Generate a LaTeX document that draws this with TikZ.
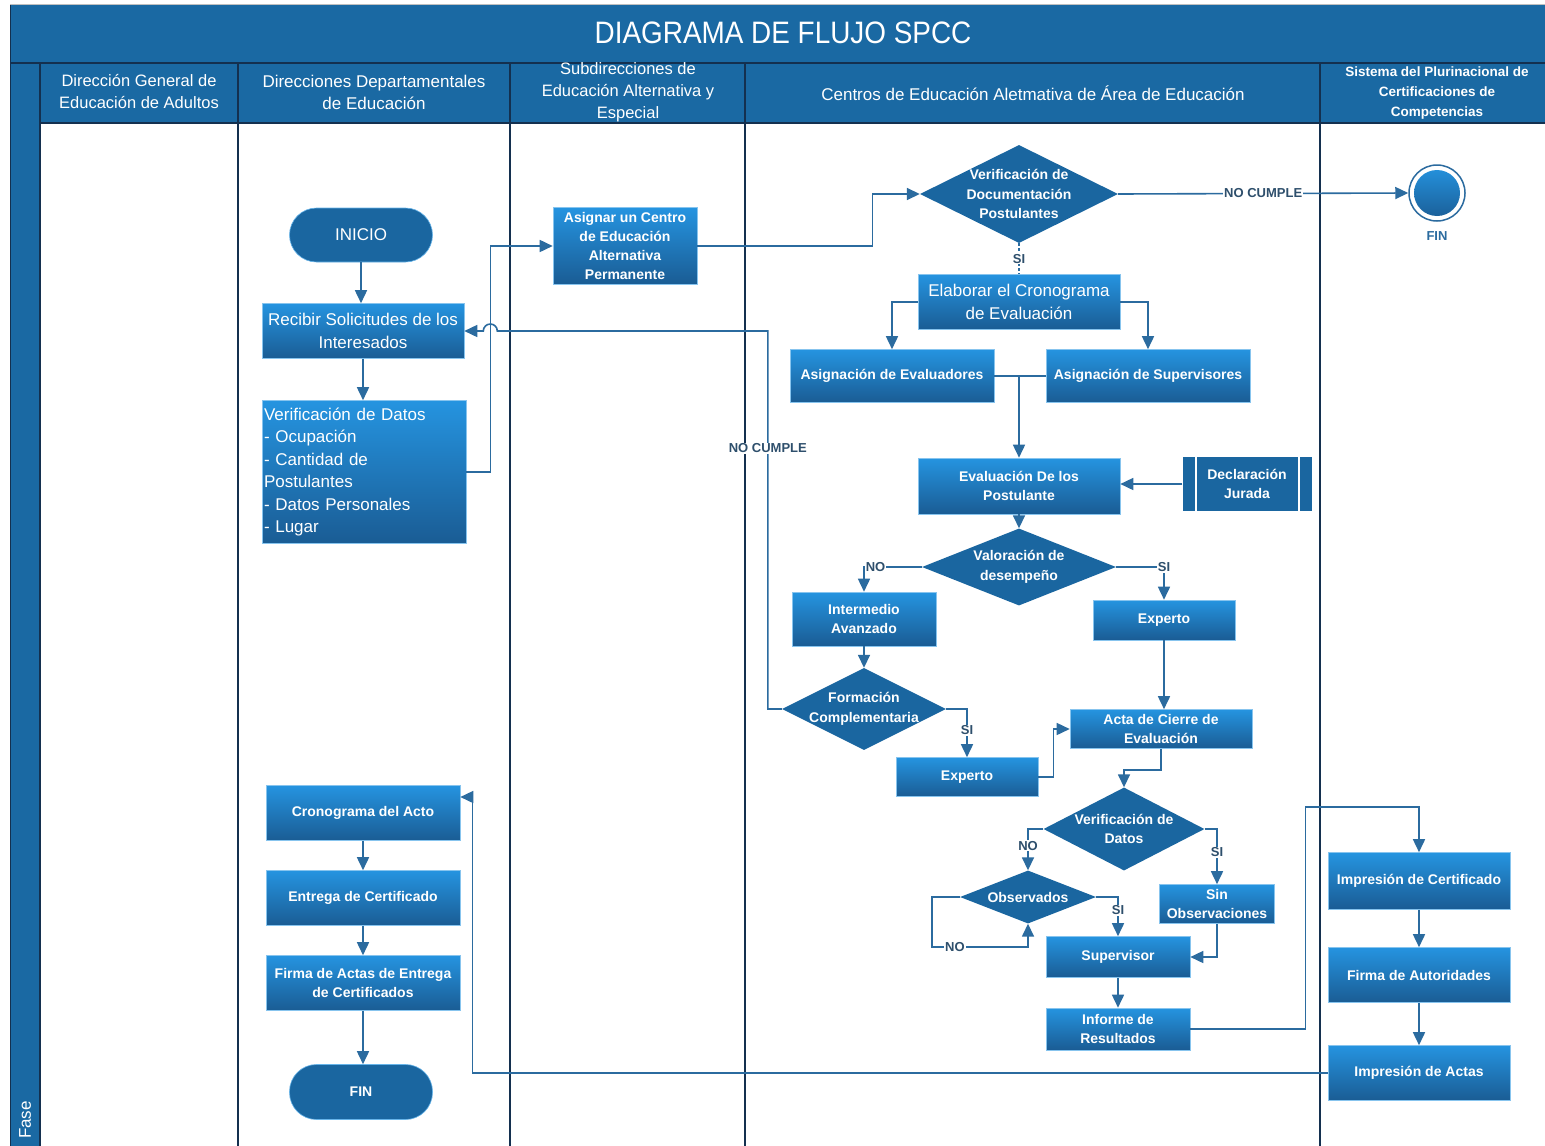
\documentclass[tikz,border=0pt]{standalone}
\usepackage{fontspec}
\setmainfont{Liberation Sans}
\newfontfamily\titlefont[FakeStretch=0.9]{Liberation Sans}
\usetikzlibrary{shapes.geometric,arrows.meta}
\definecolor{band}{HTML}{1A69A3}
\definecolor{navy}{HTML}{14304F}
\definecolor{dblue}{HTML}{1A66A0}
\definecolor{gtop}{HTML}{2594E0}
\definecolor{gbot}{HTML}{1A5C94}
\definecolor{lnc}{HTML}{2B6B9F}
\definecolor{lbl}{HTML}{2E4F6C}
\newcommand\myfs[2]{\fontsize{#1}{#2}\selectfont}
\tikzset{
  proc/.style={rectangle, top color=gtop, bottom color=gbot, draw=gtop!55!white, line width=0.6pt,
    text=white, align=center, inner sep=1pt, font=\bfseries\myfs{14}{19}},
  bigproc/.style={proc, font=\myfs{17}{22.5}},
  dec/.style={diamond, fill=dblue, inner sep=0pt},
  dlab/.style={text=white, align=center, font=\bfseries\myfs{14}{19.5}},
  term/.style={rectangle, rounded corners=27pt, fill=dblue, draw=gtop!70!white, line width=0.6pt, text=white, align=center},
  conn/.style={draw=lnc, line width=1.6pt, -{Triangle[length=13pt,width=12pt]}},
  plain/.style={draw=lnc, line width=1.6pt},
  lab/.style={fill=white, text=lbl, font=\bfseries\myfs{13}{13}, inner sep=1pt},
  hdr/.style={text=white, align=center, font=\myfs{17}{22}},
  lane/.style={draw=navy}
}
\begin{document}
\begin{tikzpicture}[x=1pt,y=-1pt]
\useasboundingbox (0,0) rectangle (1545,1146);
\fill[white] (0,0) rectangle (1545,1146);
% bands
\draw[black!25, line width=1pt] (10,4) -- (1545,4);
\fill[band] (10,5) rectangle (1545,63);
\fill[band] (10,63) rectangle (1545,123);
\fill[band] (10,63) rectangle (40,1146);
\node[text=white, font=\titlefont\myfs{31}{31}] (title) at (783,33) {DIAGRAMA DE FLUJO SPCC};
\draw[navy, line width=1.5pt] (10,63) -- (1545,63);
\draw[navy, line width=1.5pt] (40,123) -- (1545,123);
\draw[navy, line width=1pt] (10,5) -- (10,1146);
\draw[navy, line width=1.5pt] (40,63) -- (40,1146);
\draw[lane, line width=1.5pt] (238,63) -- (238,1146);
\draw[lane, line width=2.5pt] (510,63) -- (510,1146);
\draw[lane, line width=2pt] (745,63) -- (745,1146);
\draw[lane, line width=2.5pt] (1320,63) -- (1320,1146);
\node[rotate=90, text=white, font=\myfs{17}{17}] (fase) at (25,1120) {Fase};
% header texts
\node[hdr, font=\myfs{16.5}{22}] (h1) at (139,92) {Dirección General de\\Educación de Adultos};
\node[hdr] (h2) at (374,92) {Direcciones Departamentales\\de Educación};
\node[hdr, font=\myfs{16.5}{22}] (h3) at (628,92) {Subdirecciones de\\Educación Alternativa y\\Especial};
\node[hdr] (h4) at (1033,93) {Centros de Educación Aletmativa de Área de Educación};
\node[hdr, font=\bfseries\myfs{13.5}{20}] (h5) at (1437,93) {Sistema del Plurinacional de\\Certificaciones de\\Competencias};

% nodes
\node[term, minimum width=143, minimum height=54, font=\myfs{17}{17}] (ini) at (361,235) {INICIO};
\node[bigproc, minimum width=202, minimum height=55] (rec) at (363,331) {Recibir Solicitudes de los\\Interesados};
\node[bigproc, minimum width=204, minimum height=143, align=left, text width=200, inner sep=2pt] (ver) at (364,472) {Verificación de Datos\\- Ocupación\\- Cantidad de\\Postulantes\\- Datos Personales\\- Lugar};
\node[proc, minimum width=144, minimum height=77] (asg) at (625,246) {Asignar un Centro\\de Educación\\Alternativa\\Permanente};
\node[dec, minimum width=198, minimum height=98, label={[dlab]center:Verificación de\\Documentación\\Postulantes}] (vd) at (1019,194) {};
\node[circle, minimum size=56, draw=lnc, line width=1.5pt, fill=white, inner sep=0pt,
  path picture={\shade[top color=gtop, bottom color=gbot] (path picture bounding box.center) circle (23pt);},
  label={[text=lnc, font=\bfseries\myfs{13}{13}, yshift=-6pt]below:FIN}] (fin) at (1437,193) {};
\node[bigproc, minimum width=202, minimum height=55] (elab) at (1019,302) {Elaborar el Cronograma\\de Evaluación};
\node[proc, minimum width=204, minimum height=53] (eva) at (892,376) {Asignación de Evaluadores};
\node[proc, minimum width=204, minimum height=53] (sup) at (1148,376) {Asignación de Supervisores};
\node[proc, minimum width=202, minimum height=56] (evp) at (1019,486) {Evaluación De los\\Postulante};
\node[rectangle, fill=dblue, minimum width=129, minimum height=54, text=white, align=center, font=\bfseries\myfs{14}{19},
  path picture={\draw[white, line width=2pt] ([xshift=13pt]path picture bounding box.north west) -- ([xshift=13pt]path picture bounding box.south west);
                \draw[white, line width=2pt] ([xshift=-13pt]path picture bounding box.north east) -- ([xshift=-13pt]path picture bounding box.south east);}] (dj) at (1247,484) {Declaración\\Jurada};
\node[dec, minimum width=194, minimum height=77, label={[dlab]center:Valoración de\\desempeño}] (val) at (1019,567) {};
\node[proc, minimum width=144, minimum height=54] (intm) at (864,619) {Intermedio\\Avanzado};
\node[proc, minimum width=142, minimum height=40] (expR) at (1164,620) {Experto};
\node[dec, minimum width=164, minimum height=82, label={[dlab]center:Formación\\Complementaria}] (form) at (864,709) {};
\node[proc, minimum width=142, minimum height=39] (expL) at (967,777) {Experto};
\node[proc, minimum width=182, minimum height=39] (acta) at (1161,729) {Acta de Cierre de\\Evaluación};
\node[dec, minimum width=161, minimum height=83, label={[dlab]center:Verificación de\\Datos}] (vdat) at (1124,829) {};
\node[dec, minimum width=136, minimum height=53, label={[dlab]center:Observados}] (obs) at (1028,897) {};
\node[proc, minimum width=115, minimum height=39] (sinob) at (1217,904) {Sin\\Observaciones};
\node[proc, minimum width=144, minimum height=41] (supv) at (1118,957) {Supervisor};
\node[proc, minimum width=144, minimum height=42] (inf) at (1118,1029) {Informe de\\Resultados};
\node[proc, minimum width=182, minimum height=57] (impc) at (1419,881) {Impresión de Certificado};
\node[proc, minimum width=182, minimum height=55] (firm) at (1419,975) {Firma de Autoridades};
\node[proc, minimum width=182, minimum height=55] (impa) at (1419,1073) {Impresión de Actas};
\node[proc, minimum width=194, minimum height=55] (cron) at (363,813) {Cronograma del Acto};
\node[proc, minimum width=194, minimum height=55] (ent) at (363,898) {Entrega de Certificado};
\node[proc, minimum width=194, minimum height=55] (fact) at (363,983) {Firma de Actas de Entrega\\de Certificados};
\node[term, minimum width=143, minimum height=55, font=\bfseries\myfs{14}{14}] (fin2) at (361,1092) {FIN};

% connectors
\draw[conn] (ini.south) -- (ini.south |- rec.north);
\draw[conn] (rec.south) -- (rec.south |- ver.north);
\draw[conn] (ver.east) -- ++(24,0) coordinate (vx) |- (asg.west);
\draw[conn] (asg.east) -- ++(175,0) |- (vd.west);
\draw[conn] (vd.east) -- node[lab]{NO CUMPLE} (fin.west);
\draw[plain, line width=1.4pt, dash pattern=on 3pt off 2pt] (vd.south) -- node[lab]{SI} (elab.north);
\draw[conn] (elab.west) -| (eva.north);
\draw[conn] (elab.east) -| (sup.north);
\draw[plain] (eva.east) -- (sup.west);
\coordinate (jn) at (eva.east -| evp.north);
\draw[conn] (jn) -- (evp.north);
\draw[conn] (dj.west) -- (dj.west -| evp.east);
\draw[conn] (evp.south) -- (val.north);
\draw[conn] (val.west) -| node[lab, pos=0.4]{NO} (intm.north);
\draw[conn] (val.east) -| node[lab, pos=0.5]{SI} (expR.north);
\draw[conn] (intm.south) -- (form.north);
\coordinate (fl) at ([xshift=-14pt]form.west);
\coordinate (hopc) at (vx |- rec.east);
\draw[conn] (form.west) -- (fl) -- node[lab, pos=0.69]{NO CUMPLE} (fl |- rec.east) -- ([xshift=7pt]hopc) arc[start angle=0, end angle=180, radius=7pt] -- (rec.east);
\draw[conn] (form.east) -| node[lab, pos=0.72]{SI} (expL.north);
\draw[conn] (expL.east) -- ++(15,0) |- (acta.west);
\draw[conn] (expR.south) -- (expR.south |- acta.north);
\draw[conn] (acta.south) -- ++(0,21) -| (vdat.north);
\draw[conn] (vdat.west) -| node[lab, pos=0.7]{NO} (obs.north);
\draw[conn] (vdat.east) -| node[lab, pos=0.71]{SI} (sinob.north);
\draw[conn] (obs.east) -| node[lab, pos=0.67]{SI} (supv.north);
\draw[conn] (obs.west) -- ++(-28,0) -- ++(0,50) -| node[lab, pos=0.12]{NO} (obs.south);
\draw[conn] (sinob.south) |- (supv.east);
\draw[conn] (supv.south) -- (inf.north);
\coordinate (ic) at ([yshift=45pt]impc.north);
\draw[conn] (inf.east) -- ++(115,0) |- (ic) -- (impc.north);
\draw[conn] (impc.south) -- (firm.north);
\draw[conn] (firm.south) -- (impa.north);
\coordinate (ce) at ([yshift=16pt]cron.east);
\draw[conn] (impa.west) -| ([xshift=12pt]ce) -- (ce);
\draw[conn] (cron.south) -- (ent.north);
\draw[conn] (ent.south) -- (fact.north);
\draw[conn] (fact.south) -- (fact.south |- fin2.north);
\end{tikzpicture}
\end{document}
